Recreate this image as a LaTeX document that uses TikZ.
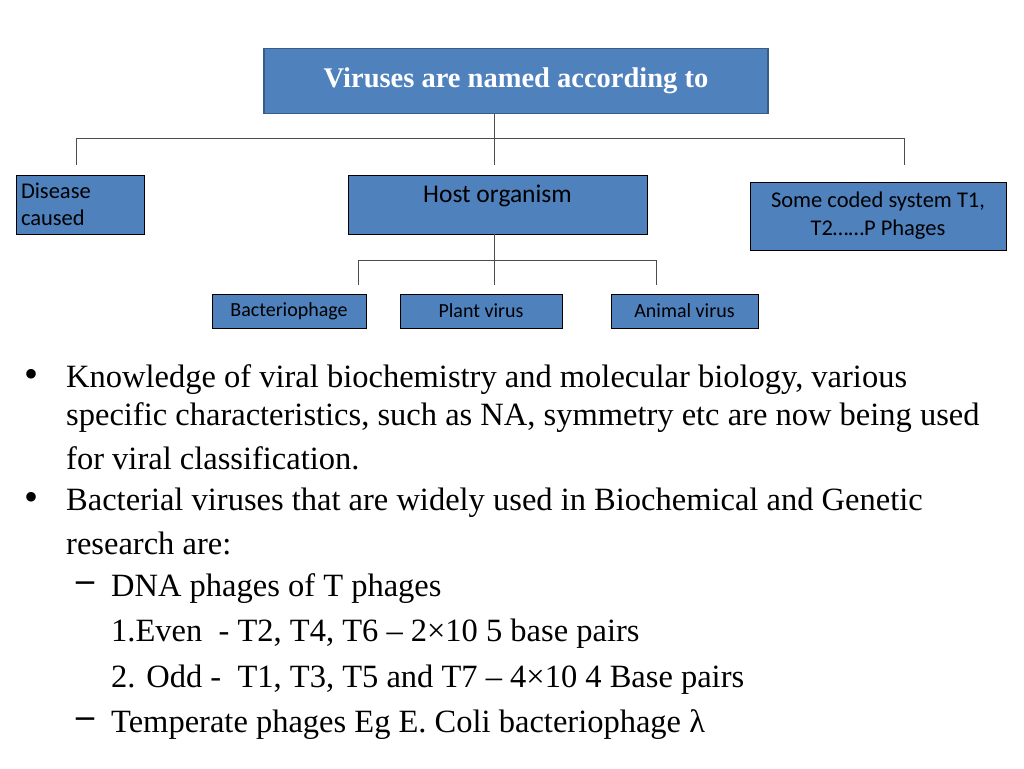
\documentclass[tikz,border=0pt]{standalone}
\usepackage{fontspec}
\setmainfont{Liberation Serif}
\newfontfamily\boxfont{Carlito}
\usetikzlibrary{positioning}
\definecolor{boxblue}{RGB}{79,129,189}
\definecolor{boxline}{RGB}{56,93,138}
\tikzset{
  vbox/.style={draw=black, fill=boxblue, thick, font=\boxfont},
  bul/.style={anchor=west, inner sep=0pt, font=\fontsize{32.5}{36}\selectfont},
  tree/.style={draw=black!70, line width=0.8pt}
}
\begin{document}
\begin{tikzpicture}[x=1pt,y=-1pt]
\useasboundingbox (0,0) rectangle (1024,768);
% boxes
\node[vbox, draw=boxline, line width=1.5pt, minimum width=504, minimum height=65, text=white,
      font=\bfseries\fontsize{28.5}{32}\selectfont] (title) at (516,81) {Viruses are named according to};
\node[vbox, minimum width=128, minimum height=59, text width=118, align=left,
      font=\boxfont\fontsize{22.5}{27}\selectfont] (disease) at (80,204.5) {Disease\\caused};
\node[vbox, minimum width=299, minimum height=59] (host) at (497.5,204.5) {};
\node[font=\boxfont\fontsize{25.5}{28}\selectfont, anchor=north] at (host.north) [yshift=-7] {Host organism};
\node[vbox, minimum width=256, minimum height=68, align=center,
      font=\boxfont\fontsize{22.5}{28}\selectfont] (coded) at (878,216) {Some coded system T1,\\T2……P Phages};
\node[vbox, minimum width=154, minimum height=34, font=\boxfont\fontsize{20}{22}\selectfont] (bact) at (289,311) {Bacteriophage};
\node[vbox, minimum width=162, minimum height=34, font=\boxfont\fontsize{20}{22}\selectfont] (plant) at (481,311) {Plant virus};
\node[vbox, minimum width=147, minimum height=34, font=\boxfont\fontsize{20}{22}\selectfont] (animal) at (684.5,311) {Animal virus};
% tree lines
\coordinate (t1) at (494,138);
\draw[tree] (title.south -| t1) -- (t1);
\draw[tree] (76,165) -- (76,138) -- (904,138) -- (904,165);
\draw[tree] (t1) -- (494,165);
\coordinate (h1) at (494,260);
\draw[tree] (host.south -| h1) -- (h1);
\draw[tree] (358,285) -- (358,260) -- (656,260) -- (656,285);
\draw[tree] (h1) -- (494,285);
% bullets
\node[bul, font=\fontsize{40}{40}\selectfont] (d1) at (24,378) {•};
\node[bul] (l1) at (66,380) {Knowledge of viral biochemistry and molecular biology, various};
\node[bul] (l2) at (66,418) {specific characteristics, such as NA, symmetry etc are now being used};
\node[bul] (l3) at (66,458) {for viral classification.};
\node[bul, font=\fontsize{40}{40}\selectfont] (d2) at (24,501) {•};
\node[bul] (l4) at (66,503) {Bacterial viruses that are widely used in Biochemical and Genetic};
\node[bul] (l5) at (66,543) {research are:};
\node[bul, font=\bfseries\fontsize{36}{36}\selectfont] (d3) at (76,587) {–};
\node[bul] (l6) at (111,589) {DNA phages of T phages};
\node[bul] (l7) at (111,634) {1.Even~ - T2, T4, T6 – 2×10 5 base pairs};
\node[bul] (l8) at (111,680) {2. Odd -~ T1, T3, T5 and T7 – 4×10 4 Base pairs};
\node[bul, font=\bfseries\fontsize{36}{36}\selectfont] (d4) at (76,723) {–};
\node[bul] (l9) at (111,725) {Temperate phages Eg E. Coli bacteriophage λ};
\end{tikzpicture}
\end{document}
